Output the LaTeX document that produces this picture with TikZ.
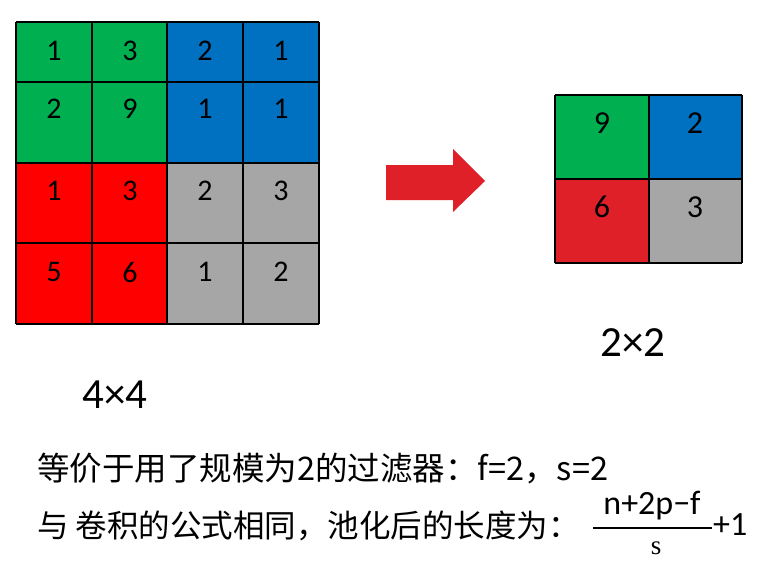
\documentclass[tikz,border=0pt]{standalone}
\usepackage{fontspec}
\setmainfont{Carlito}
\newfontfamily\cjk{Noto Sans CJK SC}
\newfontfamily\serifs{Liberation Serif}
\usetikzlibrary{arrows.meta}
\definecolor{poolgreen}{HTML}{00B050}
\definecolor{poolblue}{HTML}{0070C0}
\definecolor{poolred}{HTML}{FF0000}
\definecolor{poolgray}{HTML}{A6A6A6}
\definecolor{darkred}{HTML}{DF2029}
\tikzset{
	gridline/.style={line width=1.5pt,black},
	cellnum/.style={font=\fontsize{30}{32}\selectfont,inner sep=0pt},
	bignum/.style={font=\fontsize{32}{34}\selectfont,inner sep=0pt},
	sizelabel/.style={font=\fontsize{43}{45}\selectfont,inner sep=0pt},
	textline/.style={font=\cjk\fontsize{32.5}{35}\selectfont,inner sep=0pt,anchor=west}
}
\begin{document}
\begin{tikzpicture}[x=1pt,y=-1pt]
	\useasboundingbox (0,0) rectangle (784,570);
	\fill[poolgreen] (16,22) rectangle (167,163);
	\fill[poolblue] (167,22) rectangle (319,163);
	\fill[poolred] (16,163) rectangle (167,324);
	\fill[poolgray] (167,163) rectangle (319,324);
	\foreach \x in {16,92,167,243,319}
		\draw[gridline] (\x,22) -- (\x,324);
	\foreach \y in {22,82,163,243,324}
		\draw[gridline] (16,\y) -- (319,\y);

	\fill[poolgreen] (555,95) rectangle (649,179);
	\fill[poolblue] (649,95) rectangle (742,179);
	\fill[darkred] (555,179) rectangle (649,263);
	\fill[poolgray] (649,179) rectangle (742,263);
	\foreach \x in {555,649,742}
		\draw[gridline] (\x,95) -- (\x,263);
	\foreach \y in {95,179,263}
		\draw[gridline] (555,\y) -- (742,\y);

	\begin{scope}[every node/.style={cellnum}]
		\node (a11) at (54,51) {1};
		\node (a12) at (130,51) {3};
		\node (a13) at (205,51) {2};
		\node (a14) at (281,51) {1};
		\node (a21) at (54,109) {2};
		\node (a22) at (130,109) {9};
		\node (a23) at (205,109) {1};
		\node (a24) at (281,109) {1};
		\node (a31) at (54,191) {1};
		\node (a32) at (130,191) {3};
		\node (a33) at (205,191) {2};
		\node (a34) at (281,191) {3};
		\node (a41) at (54,272) {5};
		\node (a42) at (130,272) {6};
		\node (a43) at (205,272) {1};
		\node (a44) at (281,272) {2};
	\end{scope}
	\begin{scope}[every node/.style={bignum}]
		\node (b11) at (602,123) {9};
		\node (b12) at (695,123) {2};
		\node (b21) at (602,207) {6};
		\node (b22) at (695,207) {3};
	\end{scope}

	\fill[darkred] (386,165) -- (453,165) -- (453,149) -- (485,181)
		-- (453,212) -- (453,200) -- (386,200) -- cycle;

	\node[sizelabel] (small) at (633,343) {2×2};
	\node[sizelabel] (large) at (115,395) {4×4};

	\node[textline] (line1) at (37,469) {等价于用了规模为2的过滤器：f=2，s=2};
	\node[textline,font=\cjk\fontsize{31.5}{34}\selectfont] (line2) at (37,526) {与 卷积的公式相同，池化后的长度为：};
	\node[font=\fontsize{34}{36}\selectfont,inner sep=0pt] (numer) at (652,506) {n+2p−f};
	\node[font=\serifs\fontsize{27}{29}\selectfont,inner sep=0pt] (denom) at (656,548) {s};
	\draw[line width=2pt] (593,528) -- (712,528);
	\node[font=\fontsize{34}{36}\selectfont,inner sep=0pt,anchor=west] (plus) at (713,525) {+1};
\end{tikzpicture}
\end{document}
